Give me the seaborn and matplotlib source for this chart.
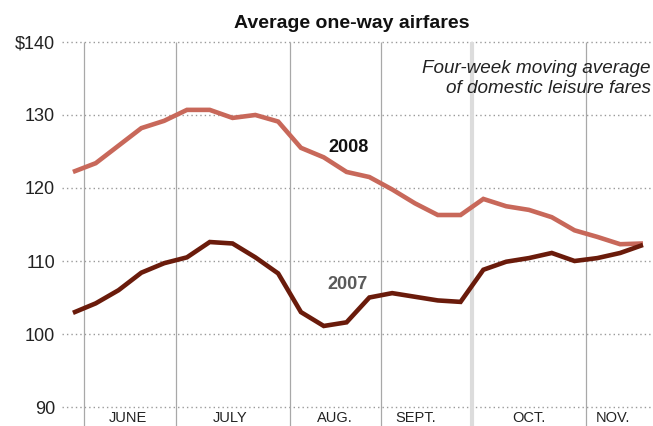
import numpy as np
import pandas as pd
import matplotlib
matplotlib.use("Agg")
import matplotlib.pyplot as plt
import seaborn as sns

# ---- data (weekly four-week moving averages) ----
weeks = list(range(26))
fares_2008 = [122.2, 123.4, 125.8, 128.2, 129.2, 130.7, 130.7, 129.6, 130.0, 129.1,
              125.5, 124.2, 122.2, 121.5, 119.8, 117.9, 116.3, 116.3, 118.5, 117.5,
              117.0, 116.0, 114.2, 113.3, 112.3, 112.4]
fares_2007 = [102.9, 104.2, 106.0, 108.4, 109.7, 110.5, 112.6, 112.4, 110.5, 108.3,
              103.0, 101.1, 101.6, 105.0, 105.6, 105.1, 104.6, 104.4, 108.8, 109.9,
              110.4, 111.1, 110.0, 110.4, 111.1, 112.2]
month_labels = ["JUNE", "JULY", "AUG.", "SEPT.", "OCT.", "NOV."]
month_boundaries = [0.5, 4.5, 9.5, 13.5, 17.5, 22.5]
y_ticks = [90, 100, 110, 120, 130, 140]
y_tick_labels = ["90", "100", "110", "120", "130", "$140"]

df = pd.DataFrame({
    "week": weeks * 2,
    "fare": fares_2008 + fares_2007,
    "year": ["2008"] * len(weeks) + ["2007"] * len(weeks),
})

sns.set_theme(style="white")
plt.rcParams["font.family"] = ["Liberation Sans", "DejaVu Sans"]

W, H = 653, 426
fig = plt.figure(figsize=(W / 100, H / 100), dpi=100)
ax = fig.add_axes([62 / W, 0, 1 - 62 / W, 1])

xmin, xmax = -0.48, 25.44
ymin, ymax = 87.4, 145.75
ax.set_xlim(xmin, xmax)
ax.set_ylim(ymin, ymax)

# horizontal dotted gridlines
for yv in y_ticks:
    ax.axhline(yv, color="#9a9a9a", lw=1.0, ls=(0, (1, 2.2)), zorder=1)

# month separators
for i, xb in enumerate(month_boundaries):
    if i == 4:
        ax.vlines(xb, ymin, 140, color="#dcdcdc", lw=3.0, zorder=1)
    else:
        ax.vlines(xb, ymin, 140, color="#a8a8a8", lw=0.9, zorder=1)

sns.lineplot(data=df, x="week", y="fare", hue="year",
             palette={"2008": "#c8685a", "2007": "#6a1b0b"},
             linewidth=3.3, legend=False, ax=ax, zorder=3)
for ln in ax.get_lines():
    ln.set_solid_capstyle("butt")
    ln.set_solid_joinstyle("miter")

for s in ax.spines.values():
    s.set_visible(False)
ax.set_xlabel("")
ax.set_ylabel("")
ax.set_xticks([])
ax.set_yticks(y_ticks)
ax.set_yticklabels(y_tick_labels)
ax.tick_params(axis="y", length=0, pad=5, labelsize=13, labelcolor="#222222")

# month labels
month_pos = [2.4, 6.9, 11.5, 15.05, 20.0, 23.7]
for lab, xp in zip(month_labels, month_pos):
    ax.text(xp, 87.55, lab, ha="center", va="bottom", fontsize=10.5, color="#222222")

# series labels
ax.text(12.1, 125.5, "2008", ha="center", va="center", fontsize=13,
        fontweight="bold", color="#111111")
ax.text(12.06, 106.85, "2007", ha="center", va="center", fontsize=13,
        fontweight="bold", color="#5a5a5a")

# note
ax.text(25.35, 135.0, "Four-week moving average\nof domestic leisure fares",
        ha="right", va="center", fontsize=13.6, style="italic", color="#222222",
        linespacing=1.18)

fig.text(352 / W, 1 - 24 / H, "Average one-way airfares", ha="center", va="center",
         fontsize=14, fontweight="bold", color="#111111")

fig.savefig("out.png", dpi=100)
